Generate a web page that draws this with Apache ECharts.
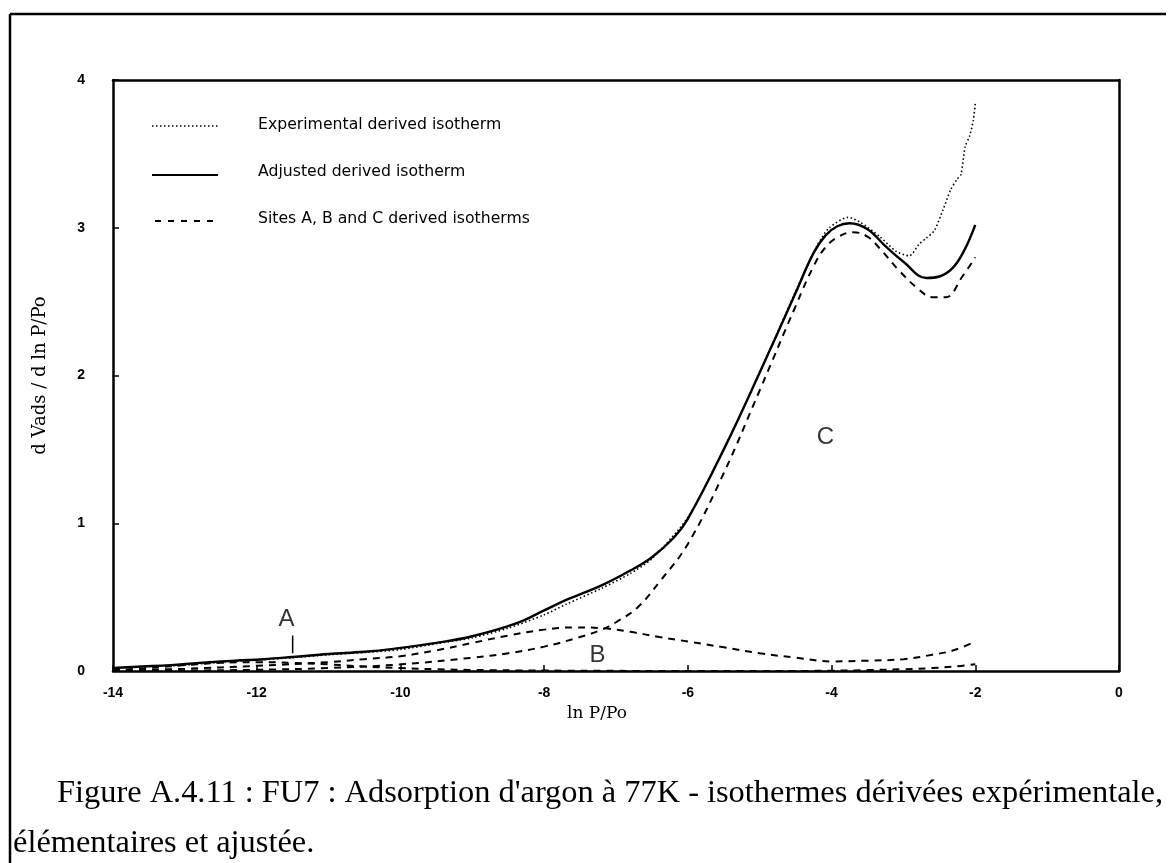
<!DOCTYPE html>
<html>
<head>
<meta charset="utf-8">
<script src="https://cdn.jsdelivr.net/npm/echarts@6/dist/echarts.min.js"></script>
<style>
html,body{margin:0;padding:0;background:#fff;}
#chart{width:1171px;height:863px;}
</style>
</head>
<body>
<div id="chart"></div>
<script>
// ---- data ----
const xTicks = [-14, -12, -10, -8, -6, -4, -2, 0];
const yTicks = [0, 1, 2, 3, 4];

const expX = [-14, -13.5, -13, -12.5, -12, -11.5, -11, -10.5, -10, -9.5, -9, -8.5, -8, -7.7, -7.2, -6.8, -6.5, -6, -5.5, -5, -4.5, -4.2, -4.03, -3.77, -3.61, -3.33, -3.1, -2.92, -2.78, -2.68, -2.57, -2.45, -2.34, -2.25, -2.2, -2.14, -2.08, -2.03, -2.0];
const expY = [0.02, 0.03, 0.04, 0.06, 0.075, 0.09, 0.11, 0.125, 0.145, 0.185, 0.225, 0.29, 0.38, 0.45, 0.56, 0.66, 0.76, 1.04, 1.5, 2.02, 2.57, 2.88, 3.0, 3.07, 3.04, 2.94, 2.84, 2.81, 2.89, 2.93, 2.98, 3.12, 3.26, 3.33, 3.36, 3.55, 3.62, 3.72, 3.84];

const adjX = [-14, -13.6, -13.2, -12.8, -12.3, -11.9, -11.5, -11.0, -10.5, -10.1, -9.5, -9.0, -8.4, -8.0, -7.7, -7.2, -6.8, -6.5, -6.2, -6.0, -5.5, -5.0, -4.5, -4.25, -4.08, -3.92, -3.75, -3.5, -3.24, -3.0, -2.68, -2.5, -2.31, -2.15, -2.0];
const adjY = [0.02, 0.03, 0.04, 0.055, 0.07, 0.08, 0.095, 0.115, 0.13, 0.15, 0.19, 0.235, 0.32, 0.41, 0.48, 0.58, 0.68, 0.77, 0.9, 1.03, 1.5, 2.02, 2.56, 2.83, 2.95, 3.01, 3.03, 2.99, 2.87, 2.77, 2.66, 2.67, 2.73, 2.85, 3.02];

const siteAX = [-14, -13.5, -13, -12.5, -12, -11.5, -11, -10.5, -10, -9.5, -9, -8, -7, -6, -5, -4, -3.5, -3, -2.6, -2.3, -2];
const siteAY = [0.005, 0.02, 0.04, 0.055, 0.06, 0.055, 0.045, 0.03, 0.02, 0.012, 0.007, 0.003, 0.001, 0, 0, 0.002, 0.006, 0.012, 0.02, 0.03, 0.045];

const siteBX = [-14, -13, -12, -11, -10.5, -10, -9.5, -9, -8.5, -8, -7.6, -7.2, -6.8, -6.4, -6, -5.5, -5, -4.5, -4, -3.5, -3.0, -2.6, -2.3, -2];
const siteBY = [0.003, 0.015, 0.035, 0.06, 0.08, 0.1, 0.14, 0.19, 0.24, 0.28, 0.295, 0.29, 0.265, 0.23, 0.2, 0.16, 0.12, 0.09, 0.065, 0.07, 0.08, 0.11, 0.14, 0.2];

const siteCX = [-14, -13, -12, -11, -10, -9, -8.5, -8, -7.5, -7.2, -7, -6.7, -6.4, -6, -5.5, -5, -4.5, -4.25, -4.08, -3.9, -3.7, -3.5, -3.33, -3.06, -2.78, -2.6, -2.41, -2.18, -2];
const siteCY = [0.0, 0.003, 0.008, 0.02, 0.045, 0.09, 0.12, 0.165, 0.23, 0.28, 0.33, 0.43, 0.6, 0.86, 1.34, 1.9, 2.47, 2.74, 2.87, 2.94, 2.97, 2.94, 2.86, 2.71, 2.58, 2.53, 2.53, 2.67, 2.8];

const legendNames = ['Experimental derived isotherm', 'Adjusted derived isotherm', 'Sites A, B and C derived isotherms'];
const peakLabels = ['A', 'B', 'C'];
const peakLabelX = [-11.58, -7.25, -4.08];
const peakLabelY = [0.345, 0.10, 1.58];
const markerAX = [-11.5, -11.5];
const markerAY = [0.12, 0.24];

const xTitle = 'ln P/Po';
const yTitle = 'd Vads / d ln P/Po';
const caption1 = "Figure A.4.11 : FU7 : Adsorption d'argon à 77K - isothermes dérivées expérimentale,";
const caption2 = 'élémentaires et ajustée.';

// ---- build ----
const zip = (xs, ys) => xs.map((x, i) => [x, ys[i]]);

const chart = echarts.init(document.getElementById('chart'), null, {renderer: 'canvas'});

const dashStyle = {color: '#000', width: 2, type: [7, 6]};
const frameAxisLine = {show: true, onZero: false, lineStyle: {color: '#000', width: 2.5}};
const option = {
  animation: false,
  backgroundColor: '#fff',
  grid: {left: 113, right: 52, top: 80, bottom: 192, show: false},
  xAxis: [{
    type: 'value', min: -14, max: 0, interval: 2, position: 'bottom',
    name: xTitle, nameLocation: 'middle', nameGap: 34,
    nameTextStyle: {fontFamily: 'DejaVu Serif', fontSize: 17, color: '#000', padding: [0, 38, 0, 0]},
    axisLine: frameAxisLine,
    axisTick: {show: true, inside: true, length: 6, lineStyle: {color: '#000', width: 1.5}},
    axisLabel: {margin: 15, fontFamily: 'Liberation Sans', fontWeight: 'bold', fontSize: 14, color: '#000',
      formatter: v => xTicks.includes(v) ? String(v) : ''},
    splitLine: {show: false}
  }, {
    type: 'value', min: -14, max: 0, interval: 2, position: 'top',
    axisLine: frameAxisLine, axisTick: {show: false}, axisLabel: {show: false}, splitLine: {show: false}
  }],
  yAxis: [{
    type: 'value', min: 0, max: 4, interval: 1, position: 'left',
    name: yTitle, nameLocation: 'middle', nameGap: 64, nameRotate: 90,
    nameTextStyle: {fontFamily: 'DejaVu Serif', fontSize: 18, color: '#000'},
    axisLine: frameAxisLine,
    axisTick: {show: true, inside: true, length: 6, lineStyle: {color: '#000', width: 1.5}},
    axisLabel: {margin: 28, fontFamily: 'Liberation Sans', fontWeight: 'bold', fontSize: 14, color: '#000',
      formatter: v => yTicks.includes(v) ? String(v) : ''},
    splitLine: {show: false}
  }, {
    type: 'value', min: 0, max: 4, interval: 1, position: 'right',
    axisLine: frameAxisLine, axisTick: {show: false}, axisLabel: {show: false}, splitLine: {show: false}
  }],
  series: [
    {name: legendNames[0], type: 'line', data: zip(expX, expY), smooth: 0.25, showSymbol: false,
      lineStyle: {color: '#000', width: 1.6, type: [1.5, 2.5]}, z: 3},
    {name: legendNames[1], type: 'line', data: zip(adjX, adjY), smooth: 0.4, showSymbol: false,
      lineStyle: {color: '#000', width: 2.4, type: 'solid'}, z: 4},
    {name: 'Site A', type: 'line', data: zip(siteAX, siteAY), smooth: 0.4, showSymbol: false, lineStyle: dashStyle},
    {name: 'Site B', type: 'line', data: zip(siteBX, siteBY), smooth: 0.4, showSymbol: false, lineStyle: dashStyle},
    {name: 'Site C', type: 'line', data: zip(siteCX, siteCY), smooth: 0.4, showSymbol: false, lineStyle: dashStyle},
    {name: 'marker A', type: 'line', data: zip(markerAX, markerAY), showSymbol: false,
      lineStyle: {color: '#000', width: 1.5}},
    {name: 'labels', type: 'scatter', symbolSize: 1, itemStyle: {color: 'rgba(0,0,0,0)'},
      data: peakLabels.map((t, i) => [peakLabelX[i], peakLabelY[i], t]),
      label: {show: true, position: [0, 0], align: 'center', verticalAlign: 'middle', formatter: p => p.data[2],
        fontFamily: 'Liberation Sans', fontSize: 24, color: '#000', textBorderWidth: 0}}
  ],
  graphic: [
    // outer frame (top + left)
    {type: 'line', shape: {x1: 10, y1: 14, x2: 1166, y2: 14}, style: {stroke: '#000', lineWidth: 2.5}},
    {type: 'line', shape: {x1: 10, y1: 14, x2: 10, y2: 863}, style: {stroke: '#000', lineWidth: 2.5}},
    // legend
    {type: 'line', shape: {x1: 152, y1: 126, x2: 218, y2: 126}, style: {stroke: '#000', lineWidth: 1.6, lineDash: [1.5, 2.5]}},
    {type: 'line', shape: {x1: 152, y1: 175, x2: 218, y2: 175}, style: {stroke: '#000', lineWidth: 2}},
    {type: 'line', shape: {x1: 155, y1: 221, x2: 218, y2: 221}, style: {stroke: '#000', lineWidth: 1.8, lineDash: [6, 7]}},
    {type: 'text', left: 258, top: 117, style: {text: legendNames[0], font: '15.7px "DejaVu Sans"', fill: '#000'}},
    {type: 'text', left: 258, top: 164, style: {text: legendNames[1], font: '15.7px "DejaVu Sans"', fill: '#000'}},
    {type: 'text', left: 258, top: 211, style: {text: legendNames[2], font: '15.7px "DejaVu Sans"', fill: '#000'}},
    // caption
    {type: 'text', left: 57, top: 777, style: {text: caption1, font: '32.4px "Liberation Serif"', fill: '#000'}},
    {type: 'text', left: 13, top: 827, style: {text: caption2, font: '32.4px "Liberation Serif"', fill: '#000'}}
  ]
};
chart.setOption(option);
</script>
</body>
</html>
